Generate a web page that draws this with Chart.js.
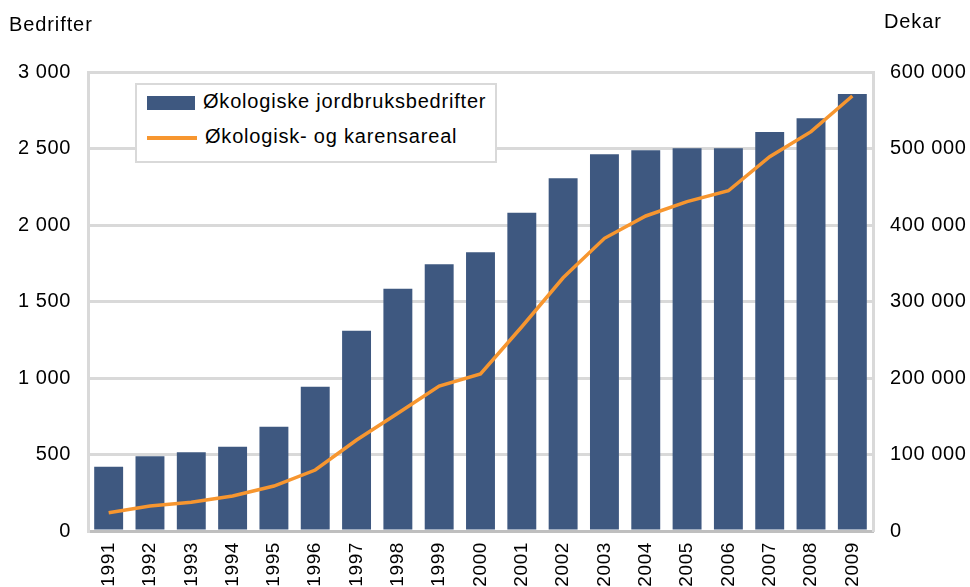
<!DOCTYPE html>
<html>
<head>
<meta charset="utf-8">
<script src="https://cdn.jsdelivr.net/npm/chart.js@4/dist/chart.umd.min.js"></script>
<style>
  html, body { margin:0; padding:0; background:#fff; }
  #wrap { position:relative; width:970px; height:587px; font-family:"Liberation Sans", Arial, sans-serif; overflow:hidden; }
  canvas { position:absolute; left:0; top:0; }
  .ttl { position:absolute; font-size:20px; letter-spacing:0.9px; color:#000; }
  #legend { position:absolute; left:135px; top:83px; width:358px; height:76px; border:2px solid #d9d9d9; background:#fff; }
  .li { position:absolute; left:10px; font-size:20px; letter-spacing:0.8px; color:#000; white-space:nowrap; }
  .sw { display:inline-block; vertical-align:middle; margin-right:8px; }
</style>
</head>
<body>
<div id="wrap">
  <canvas id="c" width="970" height="587"></canvas>
  <div class="ttl" style="left:9px; top:13px;">Bedrifter</div>
  <div class="ttl" style="left:884px; top:10px;">Dekar</div>
  <div id="legend">
    <div class="li" style="top:5px;"><span class="sw" style="width:48px;height:14px;background:#3E5880;"></span>Økologiske jordbruksbedrifter</div>
    <div class="li" style="top:40px;"><span class="sw" style="width:50px;height:4px;background:#F7962F;"></span>Økologisk- og karensareal</div>
  </div>
</div>
<script>
const years = ["1991","1992","1993","1994","1995","1996","1997","1998","1999","2000","2001","2002","2003","2004","2005","2006","2007","2008","2009"];
const farms = [420, 488, 514, 551, 682, 943, 1309, 1584, 1743, 1822, 2080, 2305, 2462, 2488, 2501, 2501, 2608, 2697, 2856];
const area = [23900, 32700, 37500, 45700, 58800, 79700, 119000, 154000, 189500, 205200, 267000, 331000, 382600, 411800, 430500, 444800, 489300, 522000, 568600];
const leftTicks = [0, 500, 1000, 1500, 2000, 2500, 3000];
const rightTicks = [0, 100000, 200000, 300000, 400000, 500000, 600000];

function fmt(v){ return String(v).replace(/\B(?=(\d{3})+(?!\d))/g, " "); }
const F = "'Liberation Sans', Arial, sans-serif";

const spacing = { id:'spacing', beforeDraw(chart){ chart.ctx.letterSpacing = '0.6px'; } };

new Chart(document.getElementById('c'), {
  plugins:[spacing],
  data: {
    labels: years,
    datasets: [
      { type:'line', label:'Økologisk- og karensareal', data: area, yAxisID:'y1',
        borderColor:'#F7962F', borderWidth:3.5, pointRadius:0, tension:0, order:0 },
      { type:'bar', label:'Økologiske jordbruksbedrifter', data: farms, yAxisID:'y',
        backgroundColor:'#3E5880', borderWidth:0, barPercentage:0.7, categoryPercentage:1.0, order:1 }
    ]
  },
  options: {
    responsive:false, animation:false,
    layout:{ padding:{ top:72, left:0, right:0, bottom:0 } },
    plugins:{ legend:{ display:false }, tooltip:{ enabled:false } },
    scales:{
      x:{
        grid:{ display:false, drawTicks:false },
        border:{ color:'#bfbfbf', width:3 },
        ticks:{ minRotation:90, maxRotation:90, autoSkip:false, padding:11, color:'#000', font:{ family:F, size:19 } },
        afterFit(a){ a.height = 56; }
      },
      y:{
        position:'left', min:0, max:3000,
        afterBuildTicks(a){ a.ticks = leftTicks.map(v=>({value:v})); },
        grid:{ color:'#d9d9d9', lineWidth:3, drawTicks:false },
        border:{ color:'#d9d9d9', width:3 },
        ticks:{ padding:17, color:'#000', font:{ family:F, size:20 }, callback:v=>fmt(v) },
        afterFit(a){ a.width = 88; }
      },
      y1:{
        position:'right', min:0, max:600000,
        afterBuildTicks(a){ a.ticks = rightTicks.map(v=>({value:v})); },
        grid:{ drawOnChartArea:false, drawTicks:false },
        border:{ color:'#d9d9d9', width:3 },
        ticks:{ padding:17, color:'#000', font:{ family:F, size:20 }, callback:v=>fmt(v) },
        afterFit(a){ a.width = 97; }
      }
    }
  }
});
</script>
</body>
</html>
